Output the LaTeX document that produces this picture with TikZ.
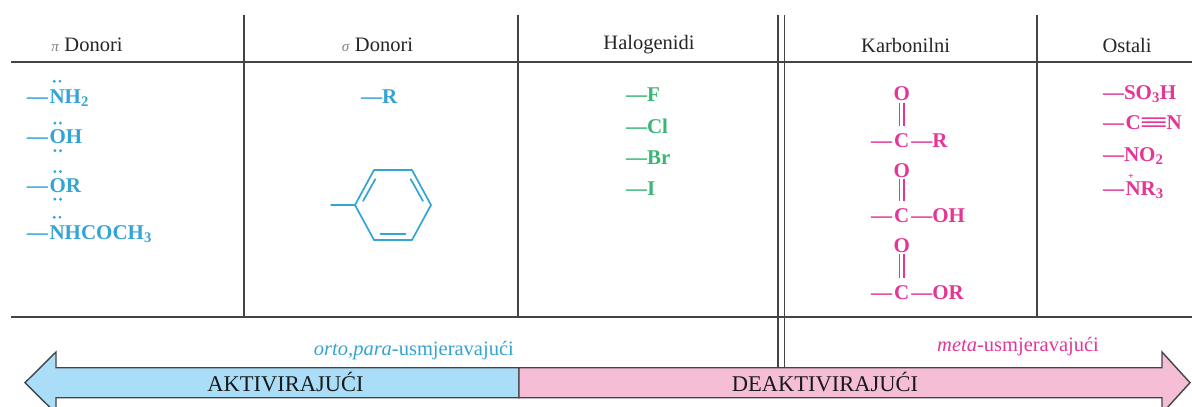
\documentclass[tikz,border=0pt]{standalone}
\usepackage{fontspec}
\setmainfont{Liberation Serif}
\definecolor{chemblue}{RGB}{52,164,212}
\definecolor{chemgreen}{RGB}{60,182,118}
\definecolor{chemmag}{RGB}{228,54,150}
\definecolor{actblue}{RGB}{170,222,248}
\definecolor{deactpink}{RGB}{245,190,214}
\definecolor{gridgray}{RGB}{68,68,68}
\begin{document}
\begin{tikzpicture}[x=1pt,y=-1pt,
  gridline/.style={draw=gridgray,line width=1.7pt},
  head/.style={font=\fontsize{20.5}{24}\selectfont, text=black!85, inner sep=0},
  chem/.style={font=\fontsize{21}{24}\selectfont\bfseries, inner sep=0, outer sep=0},
  bchem/.style={chem,text=chemblue},
  gchem/.style={chem,text=chemgreen},
  mchem/.style={chem,text=chemmag},
  lpb/.style={fill=chemblue},
  ringline/.style={draw=chemblue,line width=1.7pt,line cap=round,line join=round},
  bondm/.style={draw=chemmag,line width=1.5pt},
  arrowshape/.style={draw=gridgray,line width=1.4pt,line join=miter},
  arrowlabel/.style={font=\fontsize{22.5}{26}\selectfont, text=black!90, inner sep=0},
  dirlabel/.style={font=\fontsize{20.5}{24}\selectfont, inner sep=0}]
\useasboundingbox (0,0) rectangle (1192,407);
\fill[white] (0,0) rectangle (1192,407);

% ---------- grid ----------
\draw[gridline] (11,62) -- (1192,62);
\draw[gridline] (11,317) -- (1192,317);
\draw[gridline] (244,15) -- (244,317);
\draw[gridline] (518,15) -- (518,317);
\draw[gridline] (1037,15) -- (1037,317);
\draw[gridline] (778,15) -- (778,367);
\draw[gridline] (784.5,15) -- (784.5,367);

% ---------- headers ----------
\node[head] (hpi) at (87,45) {{\color{gray}\fontsize{15}{15}\selectfont\textit{π}}\ Donori};
\node[head] (hsigma) at (377.5,45) {{\color{gray}\fontsize{15}{15}\selectfont\textit{σ}}\ Donori};
\node[head] (hhal) at (649,45) {Halogenidi};
\node[head] (hkarb) at (905.6,45) {Karbonilni};
\node[head] (host) at (1127,45) {Ostali};

% ---------- pi donors ----------
\node[bchem,anchor=base west] (pd1) at (27,103) {—};
\node[bchem,anchor=base west] (pn1) at ([xshift=1.5pt]pd1.base east) {N};
\node[bchem,anchor=base west] (pr1) at (pn1.base east) {H\textsubscript{2}};
\fill[lpb] ([xshift=-2.8pt,yshift=8pt]pn1.north) circle (1.6pt);
\fill[lpb] ([xshift=2.8pt,yshift=8pt]pn1.north) circle (1.6pt);

\node[bchem,anchor=base west] (pd2) at (27,143.5) {—};
\node[bchem,anchor=base west] (po2) at ([xshift=1.5pt]pd2.base east) {O};
\node[bchem,anchor=base west] (pr2) at (po2.base east) {H};
\fill[lpb] ([xshift=-2.8pt,yshift=6.5pt]po2.north) circle (1.6pt);
\fill[lpb] ([xshift=2.8pt,yshift=6.5pt]po2.north) circle (1.6pt);
\fill[lpb] ([xshift=-2.8pt,yshift=-7pt]po2.south) circle (1.6pt);
\fill[lpb] ([xshift=2.8pt,yshift=-7pt]po2.south) circle (1.6pt);

\node[bchem,anchor=base west] (pd3) at (27,192) {—};
\node[bchem,anchor=base west] (po3) at ([xshift=1.5pt]pd3.base east) {O};
\node[bchem,anchor=base west] (pr3) at (po3.base east) {R};
\fill[lpb] ([xshift=-2.8pt,yshift=6.5pt]po3.north) circle (1.6pt);
\fill[lpb] ([xshift=2.8pt,yshift=6.5pt]po3.north) circle (1.6pt);
\fill[lpb] ([xshift=-2.8pt,yshift=-7pt]po3.south) circle (1.6pt);
\fill[lpb] ([xshift=2.8pt,yshift=-7pt]po3.south) circle (1.6pt);

\node[bchem,anchor=base west] (pd4) at (27,239) {—};
\node[bchem,anchor=base west] (pn4) at ([xshift=1.5pt]pd4.base east) {N};
\node[bchem,anchor=base west] (pr4) at (pn4.base east) {HCOCH\textsubscript{3}};
\fill[lpb] ([xshift=-2.8pt,yshift=8pt]pn4.north) circle (1.6pt);
\fill[lpb] ([xshift=2.8pt,yshift=8pt]pn4.north) circle (1.6pt);

% ---------- sigma donors ----------
\node[bchem,anchor=base west] (sr) at (361,103) {—R};
\coordinate (b1) at (355,205);
\coordinate (b2) at (374,170);
\coordinate (b3) at (412,170);
\coordinate (b4) at (431,205);
\coordinate (b5) at (412,240);
\coordinate (b6) at (374,240);
\coordinate (bsub) at (331,205);
\draw[ringline] (bsub) -- (b1);
\draw[ringline] (b1) -- (b2) -- (b3) -- (b4) -- (b5) -- (b6) -- cycle;
\draw[ringline] (363.0,201.0) -- (375.3,179.2);
\draw[ringline] (410.7,179.2) -- (423.0,201.0);
\draw[ringline] (380.5,234.2) -- (405.5,234.2);

% ---------- halogens ----------
\node[gchem,anchor=base west] (hf) at (626,101.5) {—F};
\node[gchem,anchor=base west] (hcl) at (626,133) {—Cl};
\node[gchem,anchor=base west] (hbr) at (626,164.5) {—Br};
\node[gchem,anchor=base west] (hi) at (626,195.5) {—I};

% ---------- carbonyls ----------
\node[mchem,anchor=base] (ko1) at (901.7,100.5) {O};
\node[mchem,anchor=base] (kc1) at (901.7,147) {C};
\node[mchem,anchor=base east] (kl1) at ([xshift=-2pt]kc1.base west) {—};
\node[mchem,anchor=base west] (kr1) at ([xshift=2pt]kc1.base east) {—R};
\draw[bondm] ([xshift=-2.4pt,yshift=-2pt]ko1.south) -- ([xshift=-2.4pt,yshift=7pt]kc1.north);
\draw[bondm] ([xshift=2.4pt,yshift=-2pt]ko1.south) -- ([xshift=2.4pt,yshift=7pt]kc1.north);

\node[mchem,anchor=base] (ko2) at (901.7,177) {O};
\node[mchem,anchor=base] (kc2) at (901.7,222) {C};
\node[mchem,anchor=base east] (kl2) at ([xshift=-2pt]kc2.base west) {—};
\node[mchem,anchor=base west] (kr2) at ([xshift=2pt]kc2.base east) {—OH};
\draw[bondm] ([xshift=-2.4pt,yshift=-2pt]ko2.south) -- ([xshift=-2.4pt,yshift=7pt]kc2.north);
\draw[bondm] ([xshift=2.4pt,yshift=-2pt]ko2.south) -- ([xshift=2.4pt,yshift=7pt]kc2.north);

\node[mchem,anchor=base] (ko3) at (901.7,252) {O};
\node[mchem,anchor=base] (kc3) at (901.7,299) {C};
\node[mchem,anchor=base east] (kl3) at ([xshift=-2pt]kc3.base west) {—};
\node[mchem,anchor=base west] (kr3) at ([xshift=2pt]kc3.base east) {—OR};
\draw[bondm] ([xshift=-2.4pt,yshift=-2pt]ko3.south) -- ([xshift=-2.4pt,yshift=7pt]kc3.north);
\draw[bondm] ([xshift=2.4pt,yshift=-2pt]ko3.south) -- ([xshift=2.4pt,yshift=7pt]kc3.north);

% ---------- others ----------
\node[mchem,anchor=base west] (os1) at (1103,99.7) {—SO\textsubscript{3}H};
\node[mchem,anchor=base west] (od2) at (1103,129.7) {—};
\node[mchem,anchor=base west] (oc2) at ([xshift=1.5pt]od2.base east) {C};
\node[mchem,anchor=base west] (on2) at ([xshift=26pt]oc2.base east) {N};
\draw[bondm] ([xshift=1pt,yshift=-3.2pt]oc2.east) -- ([xshift=-1pt,yshift=-3.2pt]on2.west);
\draw[bondm] ([xshift=1pt,yshift=0.8pt]oc2.east) -- ([xshift=-1pt,yshift=0.8pt]on2.west);
\draw[bondm] ([xshift=1pt,yshift=4.8pt]oc2.east) -- ([xshift=-1pt,yshift=4.8pt]on2.west);
\node[mchem,anchor=base west] (on3) at (1103,161) {—NO\textsubscript{2}};
\node[mchem,anchor=base west] (od4) at (1103,195.3) {—};
\node[mchem,anchor=base west] (on4) at ([xshift=1.5pt]od4.base east) {N};
\node[mchem,anchor=base west] (or4) at (on4.base east) {R\textsubscript{3}};
\node[mchem,font=\fontsize{10}{10}\selectfont\bfseries,anchor=south] (op4) at ([xshift=-2pt,yshift=2.5pt]on4.north) {+};

% ---------- direction labels ----------
\node[dirlabel,text=chemblue,anchor=base east] (orto) at (514,355) {\textit{orto,para}-usmjeravajući};
\node[dirlabel,text=chemmag,anchor=base west] (meta) at (937,351) {\textit{meta}-usmjeravajući};

% ---------- big arrow ----------
\draw[arrowshape,fill=actblue] (519,367.7) -- (56,367.7) -- (56,352) -- (25,382.7) -- (56,413.4) -- (56,397.7) -- (519,397.7) -- cycle;
\draw[arrowshape,fill=deactpink] (519,367.7) -- (1162,367.7) -- (1162,352) -- (1190,382.7) -- (1162,413.4) -- (1162,397.7) -- (519,397.7) -- cycle;
\node[arrowlabel,anchor=base] (act) at (285.5,391) {AKTIVIRAJUĆI};
\node[arrowlabel,anchor=base] (deact) at (825,391) {DEAKTIVIRAJUĆI};
\end{tikzpicture}
\end{document}
